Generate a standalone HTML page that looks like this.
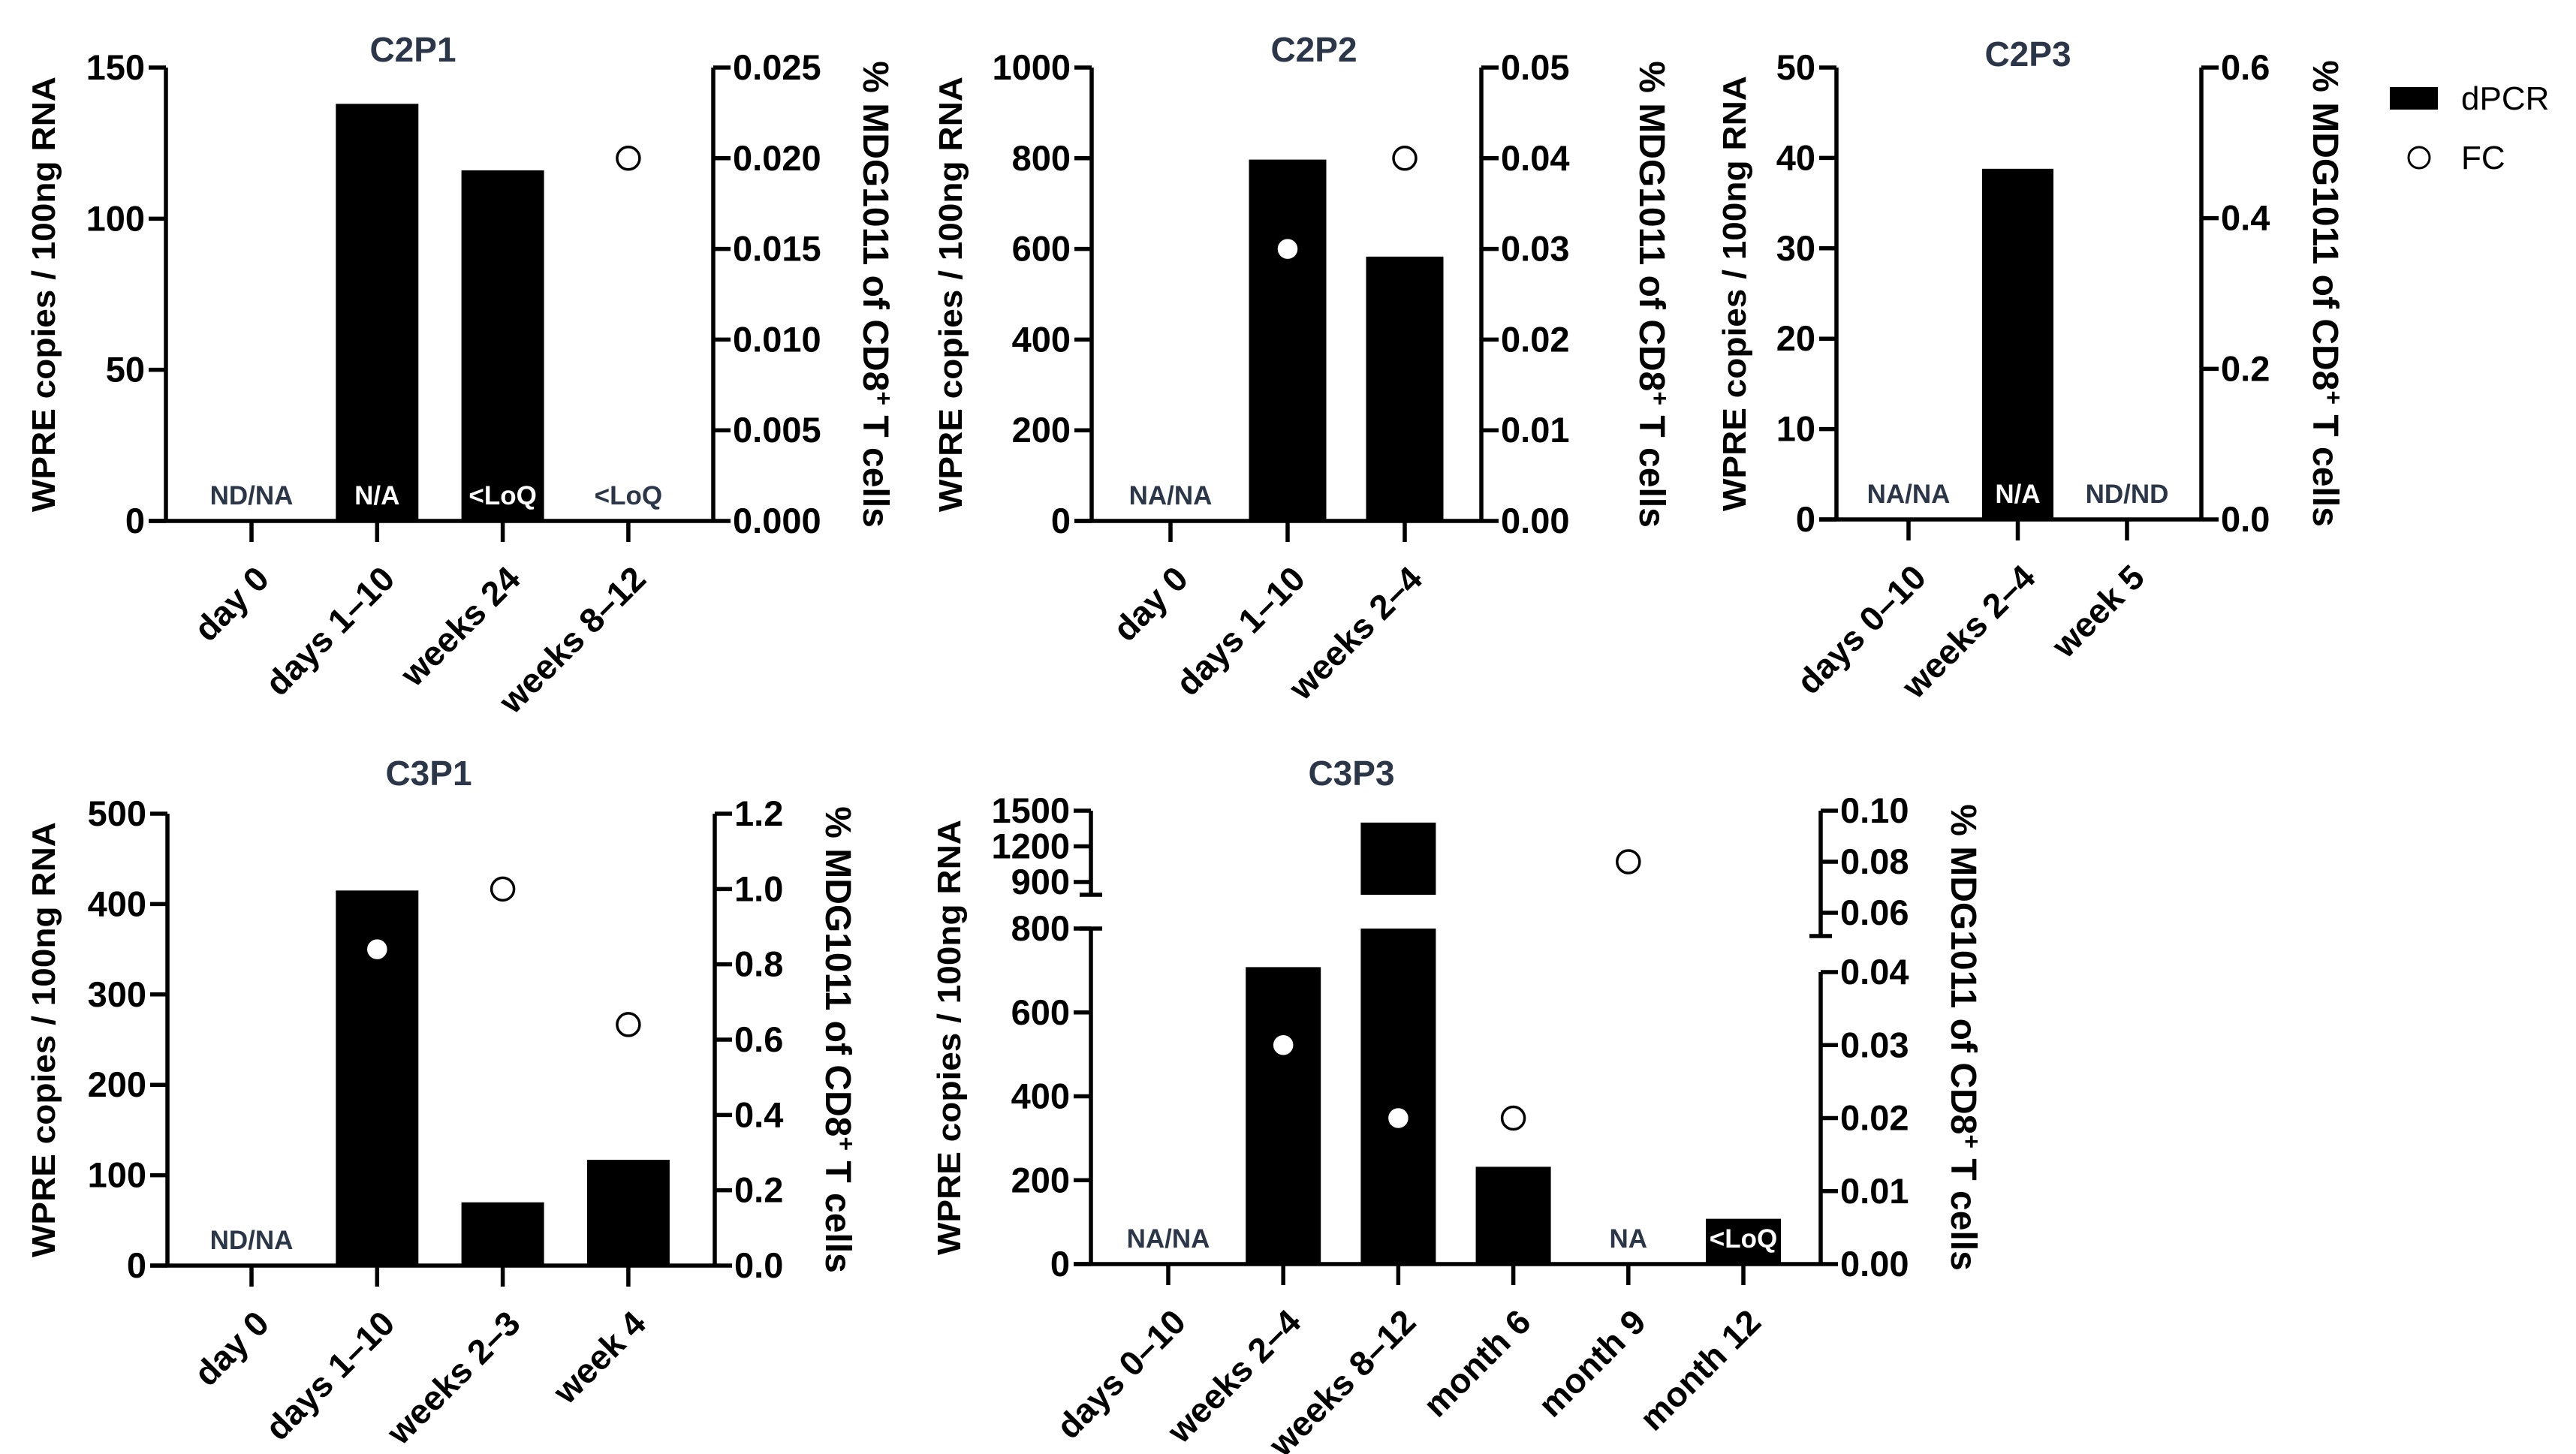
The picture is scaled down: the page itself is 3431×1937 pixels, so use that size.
<!DOCTYPE html>
<html><head><meta charset="utf-8">
<style>
html,body{margin:0;padding:0;background:#fff;}
svg{display:block;font-family:"Liberation Sans",sans-serif;}
</style></head>
<body>
<svg id="fig" width="3431" height="1937" viewBox="0 0 3431 1937" xmlns="http://www.w3.org/2000/svg">
  <g>
    <rect x="3183" y="116" width="64" height="30" fill="#000"/>
    <text x="3278" y="146" font-size="44" fill="#000">dPCR</text>
    <circle cx="3222" cy="210" r="14" fill="#fff" stroke="#000" stroke-width="3"/>
    <text x="3278" y="225" font-size="44" fill="#000">FC</text>
  </g>
</svg>
<script>
// ---- data ----
const c2p1Categories = ["day 0", "days 1\u201310", "weeks 24", "weeks 8\u201312"];
const c2p1Dpcr = [0, 138, 116, 0.6];
const c2p1Fc = [null, null, null, 0.020];
const c2p1Notes = ["ND/NA", "N/A", "<LoQ", "<LoQ"];
const c2p1LeftTicks = [0, 50, 100, 150];
const c2p1RightTicks = ["0.000", "0.005", "0.010", "0.015", "0.020", "0.025"];

const c2p2Categories = ["day 0", "days 1\u201310", "weeks 2\u20134"];
const c2p2Dpcr = [0, 797, 583];
const c2p2Fc = [null, 0.03, 0.04];
const c2p2Notes = ["NA/NA", "", ""];
const c2p2LeftTicks = [0, 200, 400, 600, 800, 1000];
const c2p2RightTicks = ["0.00", "0.01", "0.02", "0.03", "0.04", "0.05"];

const c2p3Categories = ["days 0\u201310", "weeks 2\u20134", "week 5"];
const c2p3Dpcr = [0, 38.8, 0];
const c2p3Fc = [null, null, null];
const c2p3Notes = ["NA/NA", "N/A", "ND/ND"];
const c2p3LeftTicks = [0, 10, 20, 30, 40, 50];
const c2p3RightTicks = ["0.0", "0.2", "0.4", "0.6"];

const c3p1Categories = ["day 0", "days 1\u201310", "weeks 2\u20133", "week 4"];
const c3p1Dpcr = [0, 415, 70, 117];
const c3p1Fc = [null, 0.84, 1.0, 0.64];
const c3p1Notes = ["ND/NA", "", "", ""];
const c3p1LeftTicks = [0, 100, 200, 300, 400, 500];
const c3p1RightTicks = ["0.0", "0.2", "0.4", "0.6", "0.8", "1.0", "1.2"];

const c3p3Categories = ["days 0\u201310", "weeks 2\u20134", "weeks 8\u201312", "month 6", "month 9", "month 12"];
const c3p3Dpcr = [0, 708, 1400, 232, 0, 108];
const c3p3Fc = [null, 0.03, 0.02, 0.02, 0.08, null];
const c3p3Notes = ["NA/NA", "", "", "", "NA", "<LoQ"];
const c3p3LeftTicks = [0, 200, 400, 600, 800, 900, 1200, 1500];
const c3p3RightTicks = ["0.00", "0.01", "0.02", "0.03", "0.04", "0.06", "0.08", "0.10"];

// ---- rendering ----
const NS = "http://www.w3.org/2000/svg";
const svg = document.getElementById("fig");
function mk(tag, attrs, parent) {
  const e = document.createElementNS(NS, tag);
  for (const k in attrs) e.setAttribute(k, attrs[k]);
  (parent || svg).appendChild(e);
  return e;
}
function linear(d0, d1, r0, r1) { return v => r0 + (v - d0) / (d1 - d0) * (r1 - r0); }

function drawPanel(p) {
  const g = mk("g", {});
  
  
  const sw = 5.5, LW = "#000";
  const t = mk("text", {x: p.titleX, y: p.titleY, "font-size": 46, "font-weight": "bold", fill: "#2b3748", "text-anchor": "middle"}, g);
  t.textContent = p.title;
  
  
  const xAt = i => p.x0 + i * p.step;
  p.dpcr.forEach((v, i) => {
    if (v <= 0) return;
    const cx = xAt(i);
    if (p.broken && v > p.brkLow) {
      const r1 = mk("rect", {x: cx - p.bw / 2, y: p.ly(p.brkLow), width: p.bw, height: p.zero - p.ly(p.brkLow), fill: "#000"}, g);
      
      
      const r2 = mk("rect", {x: cx - p.bw / 2, y: p.ly(v), width: p.bw, height: p.brkY - p.ly(v), fill: "#000"}, g);
      
      
    } else {
      const y = p.ly(v);
      const r = mk("rect", {x: cx - p.bw / 2, y: y, width: p.bw, height: Math.max(p.zero - y, 2), fill: "#000"}, g);
      
      
    }
  });
  p.notes.forEach((n, i) => {
    if (!n) return;
    const onBar = p.dpcr[i] > p.noteBarMin;
    const tx = mk("text", {x: xAt(i), y: p.zero - 22, "font-size": 35, "font-weight": "bold", fill: onBar ? "#fff" : "#2b3748", "text-anchor": "middle"}, g);
    tx.textContent = n;
    
    
  });
  const la = mk("g", {}, g);
  
  
  if (p.broken) {
    mk("line", {x1: p.lx, y1: p.zero, x2: p.lx, y2: p.ly(p.brkLow), stroke: LW, "stroke-width": sw}, la);
    mk("line", {x1: p.lx - 15, y1: p.ly(p.brkLow), x2: p.lx + 15, y2: p.ly(p.brkLow), stroke: LW, "stroke-width": sw}, la);
    mk("line", {x1: p.lx, y1: p.brkY, x2: p.lx, y2: p.ly(p.leftMax), stroke: LW, "stroke-width": sw}, la);
    mk("line", {x1: p.lx - 15, y1: p.brkY, x2: p.lx + 15, y2: p.brkY, stroke: LW, "stroke-width": sw}, la);
  } else {
    mk("line", {x1: p.lx, y1: p.zero + 2, x2: p.lx, y2: p.ly(p.leftMax), stroke: LW, "stroke-width": sw}, la);
  }
  p.leftTicks.forEach(v => {
    const y = p.ly(v);
    mk("line", {x1: p.lx - 23, y1: y, x2: p.lx, y2: y, stroke: LW, "stroke-width": sw}, la);
    const tl = mk("text", {x: p.lx - 28, y: y + 16, "font-size": 47, "font-weight": "bold", "text-anchor": "end", fill: "#000"}, la);
    tl.textContent = v;
  });
  const ra = mk("g", {}, g);
  
  
  if (p.broken) {
    mk("line", {x1: p.rx, y1: p.zero, x2: p.rx, y2: p.ry(p.rBrkLow), stroke: LW, "stroke-width": sw}, ra);
    mk("line", {x1: p.rx, y1: p.rBrkY, x2: p.rx, y2: p.ry(p.rightMax), stroke: LW, "stroke-width": sw}, ra);
    mk("line", {x1: p.rx - 15, y1: p.rBrkY, x2: p.rx + 15, y2: p.rBrkY, stroke: LW, "stroke-width": sw}, ra);
  } else {
    mk("line", {x1: p.rx, y1: p.zero + 2, x2: p.rx, y2: p.ry(p.rightMax), stroke: LW, "stroke-width": sw}, ra);
  }
  p.rightTicks.forEach(s => {
    const y = p.ry(parseFloat(s));
    mk("line", {x1: p.rx, y1: y, x2: p.rx + 23, y2: y, stroke: LW, "stroke-width": sw}, ra);
    const tl = mk("text", {x: p.rx + 26, y: y + 16, "font-size": 47, "font-weight": "bold", fill: "#000"}, ra);
    tl.textContent = s;
  });
  const xa = mk("g", {}, g);
  
  
  mk("line", {x1: p.lx - 23, y1: p.zero, x2: p.rx, y2: p.zero, stroke: LW, "stroke-width": sw}, xa);
  p.cats.forEach((c, i) => {
    const x = xAt(i);
    mk("line", {x1: x, y1: p.zero, x2: x, y2: p.zero + 28, stroke: LW, "stroke-width": sw}, xa);
    const bx = x + 26, by = p.zero + 80;
    const tl = mk("text", {x: bx, y: by, "font-size": 46, "font-weight": "bold", "text-anchor": "end", transform: `rotate(-45 ${bx} ${by})`, fill: "#000"}, xa);
    tl.textContent = c;
    
    
  });
  const my = (p.zero + p.ly(p.leftMax)) / 2;
  const lt = mk("text", {x: p.ltx, y: my, "font-size": 44, "font-weight": "bold", "text-anchor": "middle", transform: `rotate(-90 ${p.ltx} ${my})`, textLength: 580, lengthAdjust: "spacingAndGlyphs"}, g);
  lt.textContent = "WPRE copies / 100ng RNA";
  
  
  const rt = mk("text", {x: p.rtx, y: my, "font-size": 48, "font-weight": "bold", "text-anchor": "middle", transform: `rotate(90 ${p.rtx} ${my})`}, g);
  rt.innerHTML = '% MDG1011 of CD8<tspan dy="-16" font-size="32">+</tspan><tspan dy="16"> T cells</tspan>';
  
  
  p.fc.forEach((v, i) => {
    if (v === null) return;
    const c = mk("circle", {cx: xAt(i), cy: p.ry(v), r: 15, fill: "#fff", stroke: "#000", "stroke-width": 3.5}, g);
    
    
  });
}

function basic(id, title, titleX, titleY, cats, dpcr, fc, notes, lt, rtk, lx, rx, top, zero, x0, step, bw, ltx, rtx, noteBarMin) {
  const leftMax = lt[lt.length - 1], rightMax = parseFloat(rtk[rtk.length - 1]);
  return {id, title, titleX, titleY, cats, dpcr, fc, notes, leftTicks: lt, rightTicks: rtk, lx, rx, zero, x0, step, bw, ltx, rtx,
    leftMax, rightMax, noteBarMin, ly: linear(0, leftMax, zero, top), ry: linear(0, rightMax, zero, top)};
}

drawPanel(basic("c2p1", "C2P1", 550, 82, c2p1Categories, c2p1Dpcr, c2p1Fc, c2p1Notes, c2p1LeftTicks, c2p1RightTicks,
  221, 950, 90, 694, 335, 167.3, 110, 73, 1150, 10));
drawPanel(basic("c2p2", "C2P2", 1750, 82, c2p2Categories, c2p2Dpcr, c2p2Fc, c2p2Notes, c2p2LeftTicks, c2p2RightTicks,
  1454, 1973, 90, 694, 1559, 156, 103, 1281, 2184, 100));
drawPanel(basic("c2p3", "C2P3", 2701, 88, c2p3Categories, c2p3Dpcr, c2p3Fc, c2p3Notes, c2p3LeftTicks, c2p3RightTicks,
  2446, 2932, 90, 692, 2542, 145.5, 95, 2325, 3081, 5));
drawPanel(basic("c3p1", "C3P1", 571, 1046, c3p1Categories, c3p1Dpcr, c3p1Fc, c3p1Notes, c3p1LeftTicks, c3p1RightTicks,
  223, 952, 1084, 1686, 335, 167.3, 110, 73, 1100, 30));

(function () {
  const zero = 1684;
  const lowScale = linear(0, 800, zero, 1237);
  const upScale = linear(900, 1500, 1175, 1080);
  const ly = v => v <= 800 ? lowScale(v) : upScale(v);
  const rLow = linear(0, 0.04, zero, 1295);
  const rUp = linear(0.06, 0.10, 1216, 1080);
  const ry = v => v <= 0.045 ? rLow(v) : rUp(v);
  drawPanel({id: "c3p3", title: "C3P3", titleX: 1800, titleY: 1046, cats: c3p3Categories, dpcr: c3p3Dpcr, fc: c3p3Fc,
    notes: c3p3Notes, leftTicks: c3p3LeftTicks, rightTicks: c3p3RightTicks, lx: 1453, rx: 2425, zero, x0: 1556, step: 153.2,
    bw: 100, ltx: 1279, rtx: 2599, leftMax: 1500, rightMax: 0.10, noteBarMin: 50, ly, ry, broken: true,
    brkLow: 800, brkY: 1192, rBrkLow: 0.04, rBrkY: 1247});
})();
</script>
</body></html>
